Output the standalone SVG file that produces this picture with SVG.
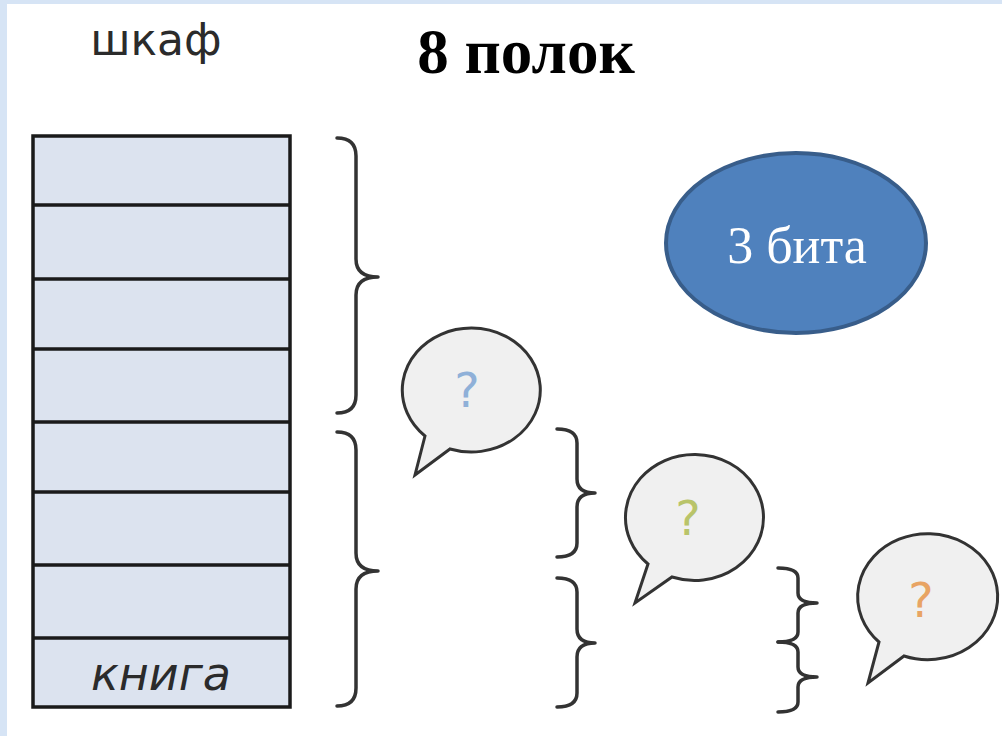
<svg xmlns="http://www.w3.org/2000/svg" width="1002" height="736" viewBox="0 0 1002 736">
<style>
.brace{fill:none;stroke:#333;stroke-width:3.5;stroke-linejoin:round;stroke-linecap:round}
.bubble{fill:#f0f0f0;stroke:#333;stroke-width:3;stroke-linejoin:miter}
.shelf{fill:#dce3ef;stroke:#1a1a1a;stroke-width:3.5}
.sl{stroke:#1a1a1a;stroke-width:3.5}
.q{font-family:"DejaVu Sans",sans-serif;font-size:48px;text-anchor:middle}
</style>
<rect x="0" y="0" width="1002" height="736" fill="#ffffff"/>
<rect x="0" y="0" width="1002" height="4" fill="#d6e4f5"/>
<rect x="0" y="0" width="7" height="736" fill="#d6e4f5"/>

<g id="title">
<text x="526" y="73" font-family="Liberation Serif, serif" font-weight="bold" font-size="63" text-anchor="middle" fill="#000">8 полок</text>
</g>

<g id="wardrobe">
<text x="156" y="55" font-family="DejaVu Sans, sans-serif" font-size="44" text-anchor="middle" fill="#2b2b2b">шкаф</text>
<rect class="shelf" x="33" y="136" width="257" height="571"/>
<line class="sl" x1="33" y1="205" x2="290" y2="205"/>
<line class="sl" x1="33" y1="279" x2="290" y2="279"/>
<line class="sl" x1="33" y1="349" x2="290" y2="349"/>
<line class="sl" x1="33" y1="422" x2="290" y2="422"/>
<line class="sl" x1="33" y1="492" x2="290" y2="492"/>
<line class="sl" x1="33" y1="565" x2="290" y2="565"/>
<line class="sl" x1="33" y1="638" x2="290" y2="638"/>
<text x="161" y="690" font-family="DejaVu Sans, sans-serif" font-style="italic" font-size="46" text-anchor="middle" fill="#2b2b2b">книга</text>
</g>

<g id="bits">
<ellipse cx="796" cy="243" rx="130" ry="90" fill="#4f81bd" stroke="#385d8a" stroke-width="4"/>
<text x="797" y="263" font-family="Liberation Serif, serif" font-size="52" text-anchor="middle" fill="#fff">3 бита</text>
</g>

<g id="braces">
<path class="brace" d="M337,138 Q356,138 356,156 L356,259 Q356,277 378,277 Q356,277 356,295 L356,395 Q356,413 337,413"/>
<path class="brace" d="M337,432 Q356,432 356,450 L356,553 Q356,571 378,571 Q356,571 356,589 L356,688 Q356,706 337,706"/>
<path class="brace" d="M557,429 Q577,429 577,443 L577,479 Q577,493 595,493 Q577,493 577,507 L577,543 Q577,557 557,557"/>
<path class="brace" d="M557,578 Q577,578 577,592 L577,629 Q577,643 595,643 Q577,643 577,657 L577,693 Q577,707 557,707"/>
<path class="brace" d="M778,568 Q798,568 798,578 L798,593 Q798,603 817,603 Q798,603 798,613 L798,632 Q798,642 778,642"/>
<path class="brace" d="M778,642 Q798,642 798,652 L798,667 Q798,677 817,677 Q798,677 798,687 L798,702 Q798,712 778,712"/>
</g>

<g id="bubble1">
<path class="bubble" d="M425,436 L415,475 L450,449 A69,62 0 1 0 425,436 Z"/>
<text class="q" x="467" y="407" fill="#8fb0d8">?</text>
</g>
<g id="bubble2">
<path class="bubble" d="M648,564 L635,603 L672,577 A69,63 0 1 0 648,564 Z"/>
<text class="q" x="688" y="535" fill="#b9c46a">?</text>
</g>
<g id="bubble3">
<path class="bubble" d="M879,642 L868,683 L904,656 A70,63 0 1 0 879,642 Z"/>
<text class="q" x="921" y="617" fill="#e8a464">?</text>
</g>
</svg>
